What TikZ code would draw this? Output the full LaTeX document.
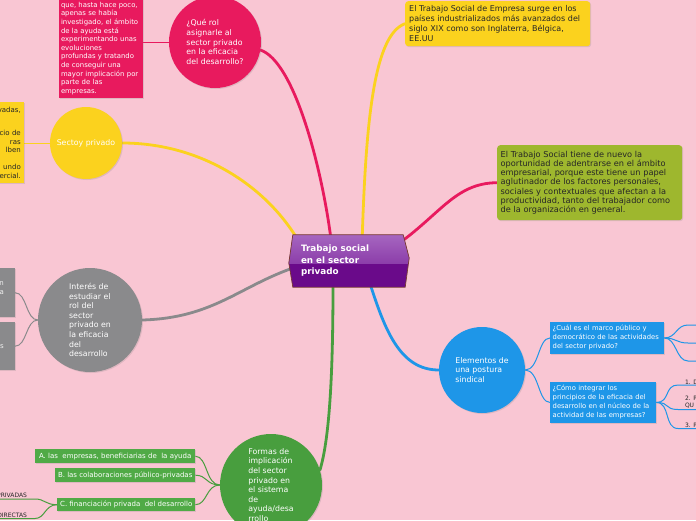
\documentclass[tikz,border=0pt]{standalone}
\usepackage{fontspec}
\setmainfont{DejaVu Sans}
\usetikzlibrary{calc,shadows}
\pgfdeclarelayer{back}
\pgfdeclarelayer{links}
\pgfdeclarelayer{shape}
\pgfsetlayers{back,links,shape,main}
\definecolor{bgpink}{RGB}{249,198,211}
\definecolor{mag}{RGB}{232,26,94}
\definecolor{yel}{RGB}{251,210,30}
\definecolor{gry}{RGB}{138,138,140}
\definecolor{grn}{RGB}{72,158,62}
\definecolor{grnbox}{RGB}{80,170,70}
\definecolor{blu}{RGB}{30,150,232}
\definecolor{olive}{RGB}{158,183,46}
\definecolor{purtop}{RGB}{166,102,192}
\definecolor{purmid}{RGB}{140,62,170}
\definecolor{purbot}{RGB}{106,10,138}
\definecolor{purline}{RGB}{122,60,50}
\definecolor{txtdark}{RGB}{38,38,38}
\newcommand\myfs[2]{\fontsize{#1}{#2}\selectfont}
\begin{document}
\begin{tikzpicture}[x=1pt,y=-1pt,
  shad/.style={drop shadow={opacity=0.22,shadow xshift=1pt,shadow yshift=-1pt}},
  bubble/.style={circle,inner sep=0pt,align=left,text=white,font=\myfs{7.8}{9.6},shad},
  box/.style={rectangle,anchor=north west,align=left,shad},
  gbox/.style={rectangle,anchor=north west,fill=grnbox,text=white,inner sep=0pt,font=\myfs{7}{8},shad},
  mainlink/.style={line width=2.8pt,line cap=round},
  sublink/.style={line width=1pt},
  frag/.style={inner sep=0.8pt,font=\myfs{6}{7},text=txtdark}
]
\begin{pgfonlayer}{back}
\fill[bgpink] (0,0) rectangle (696,520);
\end{pgfonlayer}
\useasboundingbox (0,0) rectangle (696,520);

% central node
\node[rectangle,minimum width=112pt,minimum height=52pt,inner xsep=8pt,inner ysep=0pt,
  text width=96pt,align=left,text=white,font=\bfseries\myfs{8.8}{11.5}] (c) at (349,261)
  {Trabajo social\\en el sector\\privado};

% bubbles
\node[bubble,fill=mag,minimum size=92pt] (q) at (215,42)
  {¿Qué rol\\asignarle al\\sector privado\\en la eficacia\\del desarrollo?};
\node[bubble,fill=yel,minimum size=72pt] (s) at (86,143) {Sectoy privado};
\node[bubble,fill=gry,minimum size=104pt] (g) at (90,320)
  {Interés de\\estudiar el\\rol del\\sector\\privado en\\la eficacia\\del\\desarrollo};
\node[bubble,fill=grn,minimum size=102pt] (f) at (271,485)
  {Formas de\\implicación\\del sector\\privado en\\el sistema\\de\\ayuda/desa\\rrollo};
\node[bubble,fill=blu,minimum size=86pt] (b) at (482,370)
  {Elementos de\\una postura\\sindical};

% boxes
\node[box,fill=yel,rounded corners=3pt,minimum width=185pt,minimum height=45pt,
  inner xsep=4pt,text width=177pt,font=\myfs{8}{10},text=txtdark] (ty) at (405,1)
  {El Trabajo Social de Empresa surge en los\\países industrializados más avanzados del\\siglo XIX como son Inglaterra, Bélgica,\\EE.UU};
\node[box,fill=olive,rounded corners=3pt,minimum width=185pt,minimum height=75pt,
  inner xsep=3.5pt,text width=178pt,font=\myfs{8.2}{9.3},text=txtdark] (ol) at (497,145)
  {El Trabajo Social tiene de nuevo la\\oportunidad de adentrarse en el ámbito\\empresarial, porque este tiene un papel\\aglutinador de los factores personales,\\sociales y contextuales que afectan a la\\productividad, tanto del trabajador como\\de la organización en general.};
\node[rectangle,fill=mag,anchor=south,inner xsep=2pt,inner ysep=3pt,text width=80pt,
  align=left,text=white,font=\myfs{6.9}{8.6},shad] (qr) at (101,98)
  {que, hasta hace poco,\\apenas se había\\investigado, el ámbito\\de la ayuda está\\experimentando unas\\evoluciones\\profundas y tratando\\de conseguir una\\mayor implicación por\\parte de las\\empresas.};
\node[rectangle,fill=yel,anchor=north east,minimum height=81pt,inner xsep=3pt,
  text width=76pt,align=right,text=txtdark,font=\myfs{7}{8.5},shad] (sy) at (24,102)
  {vadas,\hspace*{1pt}\\[14.5pt]cio de\\ras\hspace*{3pt}\\lben\hspace*{1pt}\\[8.5pt]undo\hspace*{4pt}\\ercial.};
\node[rectangle,fill=gry,anchor=north east,minimum height=49pt,inner xsep=11pt,
  text width=40pt,align=right,text=white!88!gray,font=\myfs{7}{9},shad] (gr1) at (15,268)
  {n\\a\\\mbox{}};
\node[rectangle,fill=gry,anchor=north east,minimum height=48pt,inner xsep=11pt,
  text width=40pt,align=right,text=white!88!gray,font=\myfs{7}{9},shad] (gr2) at (15,322)
  {s};

\node[gbox,minimum width=160pt,minimum height=14pt] (A) at (35,449)
  {A. las~ empresas, beneficiarias de~ la ayuda};
\node[gbox,minimum width=140pt,minimum height=14pt] (B) at (55,468)
  {B. las colaboraciones público-privadas};
\node[gbox,minimum width=138pt,minimum height=13pt] (C) at (57,498)
  {C. financiación privada~ del desarrollo};
\node[frag,anchor=south east] (r1) at (28,499) {PRIVADAS};
\node[frag,anchor=south east] (d1) at (28,518.5) {DIRECTAS};

\node[box,fill=blu,minimum width=114pt,minimum height=31pt,inner xsep=2.5pt,
  text width=109pt,text=white,font=\myfs{6.8}{9}] (R1) at (550,322)
  {¿Cuál es el marco público y\\democrático de las actividades\\del sector privado?};
\node[box,fill=blu,minimum width=106pt,minimum height=39pt,inner xsep=2.5pt,
  text width=101pt,text=white,font=\myfs{6.8}{9}] (R2) at (550,382)
  {¿Cómo integrar los\\principios de la eficacia del\\desarrollo en el núcleo de la\\actividad de las empresas?};
\node[frag,anchor=south west] (t1) at (684,385) {1. D};
\node[frag,anchor=south west,align=left] (t2) at (684,409.5) {2. P\\QU};
\node[frag,anchor=south west] (t3) at (684,428.5) {3. P};
\coordinate (e1) at (688,325);
\coordinate (e2) at (688,343);
\coordinate (e3) at (688,361);

% connectors
\begin{pgfonlayer}{links}
\draw[mainlink,mag] (q.-10) .. controls (295,62) and (322,170) .. ($(c.north west)+(38,3)$);
\draw[mainlink,yel] (s.east) .. controls (200,143) and (265,185) .. ($(c.north west)+(5,5)$);
\draw[mainlink,gry] (g.east) .. controls (215,318) and (240,285) .. ($(c.west)+(6,5)$);
\draw[mainlink,grn] ($(c.south)+(-16,-3)$) .. controls (333,380) and (329,440) .. (f.17);
\draw[mainlink,blu] ($(c.south east)+(-35,-3)$) .. controls (385,330) and (400,370) .. (b.west);
\draw[mainlink,yel] ($(c.north east)+(-43,3)$) .. controls (366,120) and (374,35) .. (ty.west);
\draw[mainlink,mag] ($(c.east)+(-10,-15)$) .. controls (440,215) and (455,183) .. (ol.west);

\draw[sublink,mag] (q.west) -- (q.west -| qr.east);
\draw[sublink,yel] (s.west) -- (s.west -| sy.east);
\draw[sublink,gry] (g.west) .. controls +(-12,0) and +(12,0) .. (gr1.east);
\draw[sublink,gry] (g.west) .. controls +(-12,0) and +(12,0) .. (gr2.east);
\draw[sublink,grn] (f.west) .. controls +(-14,0) and +(12,0) .. (A.east);
\draw[sublink,grn] (f.west) .. controls +(-14,0) and +(12,0) .. (B.east);
\draw[sublink,grn] (f.west) .. controls +(-14,0) and +(12,0) .. (C.east);
\draw[sublink,grn] (C.west) .. controls +(-12,0) and +(10,0) .. ([xshift=7pt]r1.south east) -- (r1.south west);
\draw[sublink,grn] (C.west) .. controls +(-12,0) and +(10,0) .. ([xshift=7pt]d1.south east) -- (d1.south west);
\draw[sublink,blu] (b.east) .. controls +(14,0) and +(-12,0) .. (R1.west);
\draw[sublink,blu] (b.east) .. controls +(14,0) and +(-12,0) .. (R2.west);
\draw[sublink,blu] (R1.east) .. controls +(12,0) and +(-12,0) .. (e1) -- ++(20,0);
\draw[sublink,blu] (R1.east) .. controls +(12,0) and +(-12,0) .. (e2) -- ++(20,0);
\draw[sublink,blu] (R1.east) .. controls +(12,0) and +(-12,0) .. (e3) -- ++(20,0);
\draw[sublink,blu] (R2.east) .. controls +(14,0) and +(-14,0) .. ([xshift=-6pt]t1.south west) -- ++(30,0);
\draw[sublink,blu] (R2.east) .. controls +(14,0) and +(-14,0) .. ([xshift=-6pt]t2.south west) -- ++(30,0);
\draw[sublink,blu] (R2.east) .. controls +(14,0) and +(-14,0) .. ([xshift=-6pt]t3.south west) -- ++(30,0);
\end{pgfonlayer}

% central shape
\begin{pgfonlayer}{shape}
\coordinate (p1) at (c.north west);
\coordinate (p2) at ($(c.north east)+(-2,0)$);
\coordinate (p3) at ($(c.east)+(4,-3)$);
\coordinate (p4) at (c.south east);
\coordinate (p5) at (c.south west);
\coordinate (p6) at ($(c.west)+(-4,2)$);
\begin{scope}
\clip (p1)--(p2)--(p3)--(p4)--(p5)--(p6)--cycle;
\fill[purbot] ($(p6)+(-3,-40)$) rectangle ($(p3)+(3,40)$);
\shade[top color=purtop,bottom color=purmid] ($(c.north west)+(-6,0)$) rectangle ($(c.east)+(6,2)$);
\end{scope}
\draw[purline,line width=0.7pt,line join=round] (p1)--(p2)--(p3)--(p4)--(p5)--(p6)--cycle;
\end{pgfonlayer}
\end{tikzpicture}
\end{document}
